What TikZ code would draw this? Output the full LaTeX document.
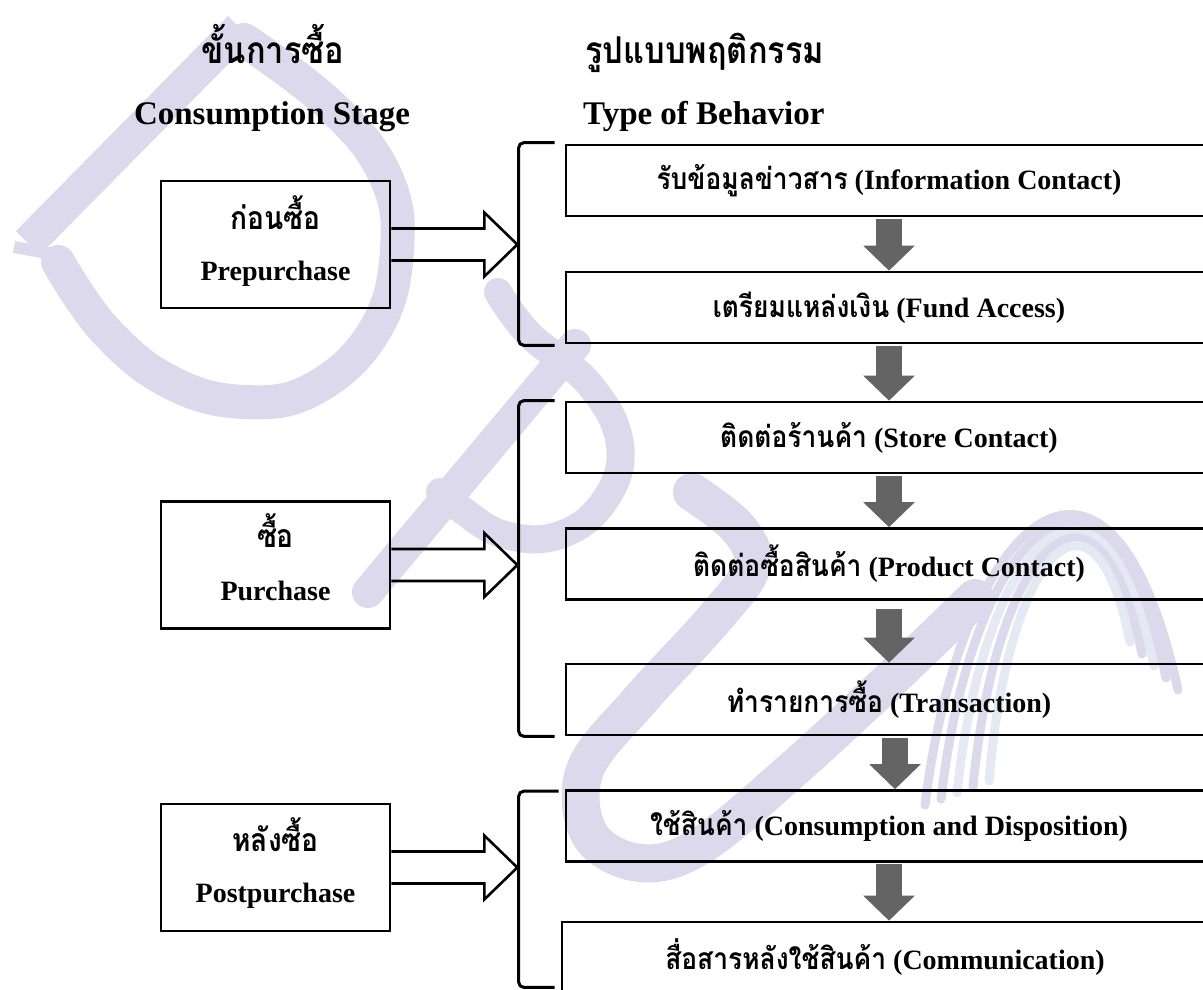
\documentclass[tikz,border=0pt]{standalone}
\usepackage{fontspec}
\setmainfont{Liberation Serif}
\newfontfamily\thaifont[Script=Thai,FakeStretch=0.88]{Loma}
\usetikzlibrary{arrows.meta,calc}

\definecolor{wm}{RGB}{221,217,236}
\definecolor{wmblue}{RGB}{228,233,243}
\definecolor{flowgray}{RGB}{100,100,100}

\newcommand{\thaiinbox}[1]{{\thaifont\fontsize{30}{34}\selectfont #1}}

\begin{document}
\begin{tikzpicture}[x=1pt,y=-1pt,
  stagebox/.style={draw=black, line width=2.6pt, minimum width=229pt, minimum height=127pt, inner sep=0pt},
  behbox/.style={draw=black, line width=2.6pt, minimum width=646pt, minimum height=71pt, inner sep=0pt,
                 font=\fontsize{28}{32}\selectfont\bfseries},
  englbl/.style={inner sep=0pt, anchor=base, font=\fontsize{28}{32}\selectfont\bfseries},
  thlbl/.style={inner sep=0pt, anchor=base, font=\fontsize{32}{36}\selectfont\thaifont\bfseries},
  enghead/.style={inner sep=0pt, font=\fontsize{33}{38}\selectfont\bfseries},
  thhead/.style={inner sep=0pt, font=\fontsize{37}{42}\selectfont\thaifont\bfseries},
  bracket/.style={draw=black, line width=3pt, rounded corners=5pt},
  blockarrow/.style={draw=black, line width=2.6pt, line join=miter},
  flow/.style={draw=flowgray, line width=26pt, shorten <=1.5pt,
               -{Triangle[width=50pt,length=25pt]}},
  wmark/.style={draw=wm, line cap=round, line join=round}
]
\useasboundingbox (0,0) rectangle (1203,989);
\clip (0,0) rectangle (1203,989);
\fill[white] (0,0) rectangle (1203,989);

% --- faint logo watermark behind the chart ---
\begin{scope}[wmark]
  % D
  \draw[line width=34pt, line cap=butt] (240,28) -- (28,243);
  \draw[line width=12pt, line cap=butt] (14,247) -- (64,256);
  \draw[line width=34pt] plot[smooth, tension=0.7] coordinates
    {(244,40) (330,105) (385,175) (397,250) (375,330) (315,388) (245,402) (170,382) (105,330) (58,262)};
  % P
  \draw[line width=32pt] (575,345) -- (368,592);
  \draw[line width=28pt] plot[smooth, tension=0.7] coordinates
    {(498,292) (530,335) (590,385) (620,445) (605,500) (560,535) (505,535) (462,510) (440,492)};
  % U
  \draw[line width=38pt] plot[smooth, tension=0.6] coordinates
    {(692,492) (738,528) (752,566) (715,618) (640,700) (585,770) (590,835) (640,863) (700,846) (790,772) (890,680) (975,598)};
  % flame stripes
  \foreach \i/\c in {0/wm,1/wm,2/wmblue,3/wm,4/wmblue}{
    \draw[draw=\c, line width=9pt]
      ({925+16*\i},{805-6*\i}) .. controls ({960+12*\i},{520+8*\i}) and ({1110-4*\i},{380+20*\i}) .. ({1178-12*\i},{690-12*\i});
  }
\end{scope}

% --- column headings ---
\node[thhead, anchor=base]       (hStageTh) at (273,63)  {ขั้นการซื้อ};
\node[enghead, anchor=base]      (hStageEn) at (272,124) {Consumption Stage};
\node[thhead, anchor=base west]  (hTypeTh)  at (585,63)  {รูปแบบพฤติกรรม};
\node[enghead, anchor=base west] (hTypeEn)  at (583,124) {Type of Behavior};

% --- consumption stages ---
\node[stagebox] (pre)  at (275.5,244.5) {};
\node[stagebox] (pur)  at (275.5,565)   {};
\node[stagebox] (post) at (275.5,867.5) {};

\node[thlbl]  (preTh)  at ($(pre.center)+(0,-15)$)  {ก่อนซื้อ};
\node[englbl] (preEn)  at ($(pre.center)+(0,36)$)   {Prepurchase};
\node[thlbl]  (purTh)  at ($(pur.center)+(0,-18)$)  {ซื้อ};
\node[englbl] (purEn)  at ($(pur.center)+(0,35)$)   {Purchase};
\node[thlbl]  (postTh) at ($(post.center)+(0,-16)$) {หลังซื้อ};
\node[englbl] (postEn) at ($(post.center)+(0,35)$)  {Postpurchase};

% --- behaviours ---
\node[behbox] (info)  at (889,180.5) {\thaiinbox{รับข้อมูลข่าวสาร} (Information Contact)};
\node[behbox] (fund)  at (889,307.5) {\thaiinbox{เตรียมแหล่งเงิน} (Fund Access)};
\node[behbox] (store) at (889,437.5) {\thaiinbox{ติดต่อร้านค้า} (Store Contact)};
\node[behbox] (prod)  at (889,564)   {\thaiinbox{ติดต่อซื้อสินค้า} (Product Contact)};
\node[behbox] (trans) at (889,699.5) {\thaiinbox{ทำรายการซื้อ} (Transaction)};
\node[behbox] (cons)  at (889,826)   {\thaiinbox{ใช้สินค้า} (Consumption and Disposition)};
\node[behbox] (comm)  at (885,957.5) {\thaiinbox{สื่อสารหลังใช้สินค้า} (Communication)};

% --- flow between behaviours ---
\draw[flow] (info.south)  -- (fund.north);
\draw[flow] (fund.south)  -- (store.north);
\draw[flow] (store.south) -- (prod.north);
\draw[flow, shorten <=8pt] (prod.south) -- (trans.north);
\draw[flow] ([xshift=6pt]trans.south) -- ([xshift=6pt]cons.north);
\draw[flow] (cons.south)  -- ([xshift=4pt]comm.north);

% --- brackets grouping behaviours by stage ---
\coordinate (b1top) at ([xshift=-10pt,yshift=1pt]info.north west);
\coordinate (b1bot) at ([xshift=-46pt,yshift=-1pt]fund.south west);
\draw[bracket] (b1top) -| (b1bot) -- ([xshift=-10pt,yshift=-1pt]fund.south west);
\coordinate (b2top) at ([xshift=-10pt]store.north west);
\coordinate (b2bot) at ([xshift=-46pt]trans.south west);
\draw[bracket] (b2top) -| (b2bot) -- ([xshift=-10pt]trans.south west);
\coordinate (b3top) at ([xshift=-6pt,yshift=-2pt]cons.north west);
\coordinate (b3bot) at ([xshift=-42pt,yshift=7pt]comm.south west);
\draw[bracket] (b3top) -| (b3bot) -- ([xshift=-6pt,yshift=7pt]comm.south west);

% --- stage arrows pointing at the brackets ---
\foreach \s in {pre,pur,post}{
  \draw[blockarrow] ($(\s.east)+(0,-16)$) -- ($(\s.east)+(93,-16)$) -- ($(\s.east)+(93,-32)$)
    -- ($(\s.east)+(126,0)$) -- ($(\s.east)+(93,32)$) -- ($(\s.east)+(93,16)$) -- ($(\s.east)+(0,16)$);
}
\end{tikzpicture}
\end{document}
